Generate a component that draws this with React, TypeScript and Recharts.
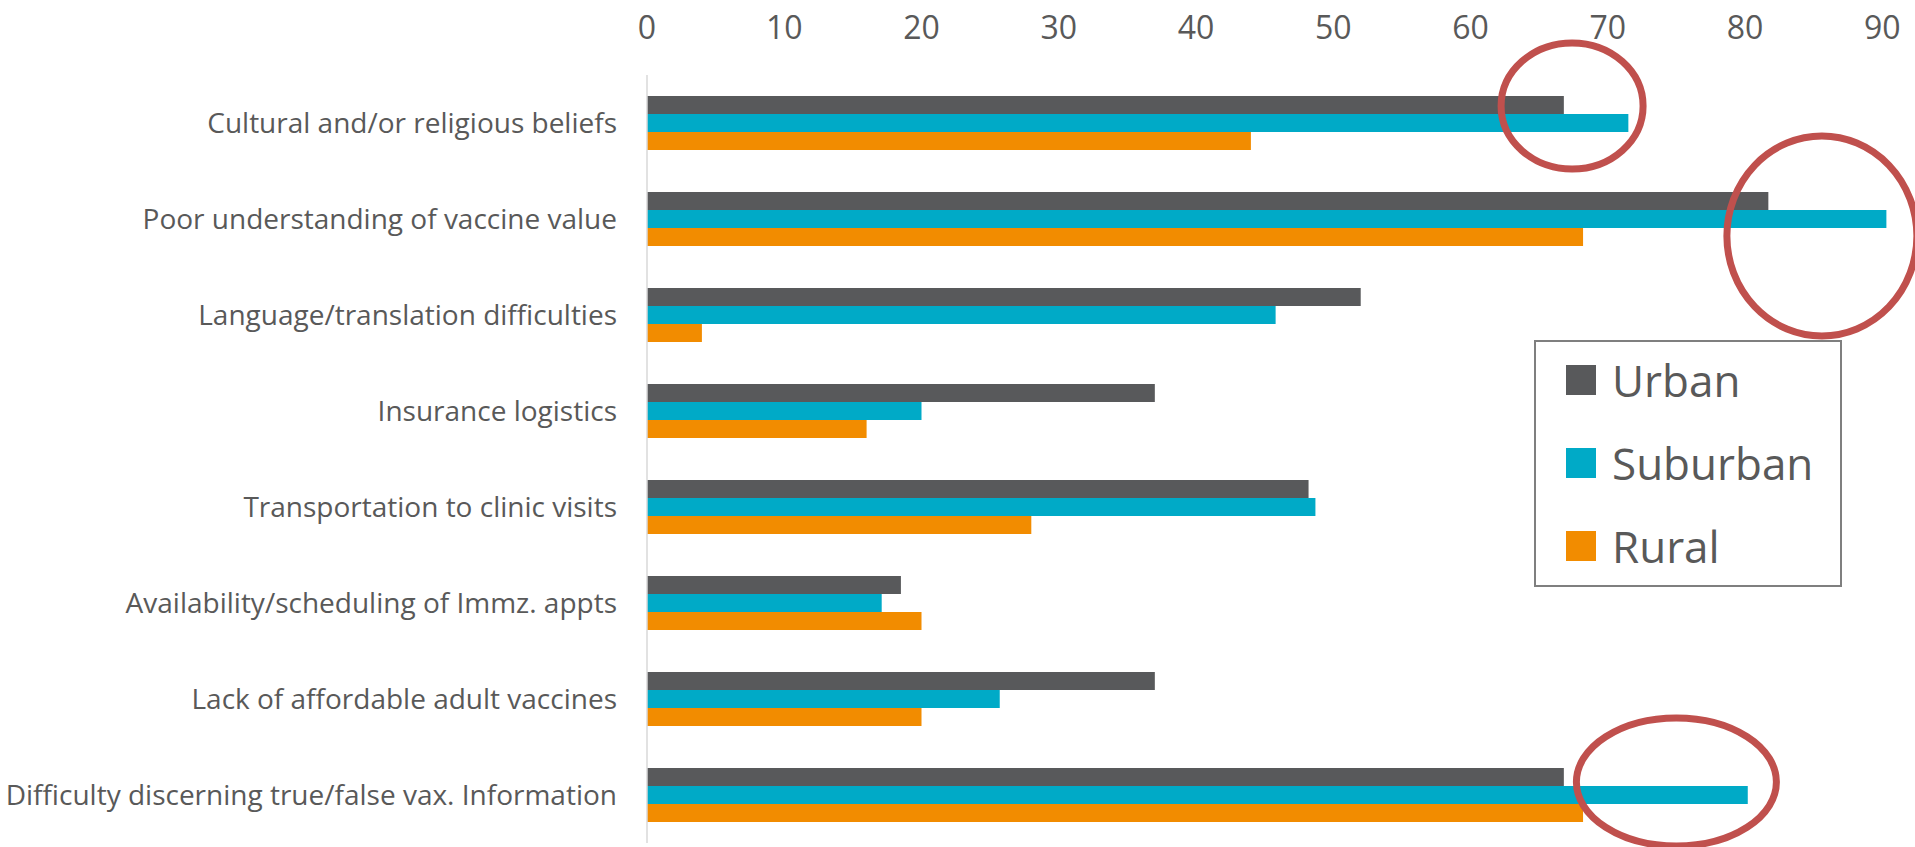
import React from "react";
import { BarChart, Bar, XAxis, YAxis, Legend, ReferenceDot } from "recharts";

const categories = [
  "Cultural and/or religious beliefs",
  "Poor understanding of vaccine value",
  "Language/translation difficulties",
  "Insurance logistics",
  "Transportation to clinic visits",
  "Availability/scheduling of Immz. appts",
  "Lack of affordable adult vaccines",
  "Difficulty discerning true/false vax. Information",
];
const seriesNames = ["Urban", "Suburban", "Rural"];
const urban = [66.8, 81.7, 52, 37, 48.2, 18.5, 37, 66.8];
const suburban = [71.5, 90.3, 45.8, 20, 48.7, 17.1, 25.7, 80.2];
const rural = [44, 68.2, 4, 16, 28, 20, 20, 68.2];
const xTicks = [0, 10, 20, 30, 40, 50, 60, 70, 80, 90];

// annotation rings: [x value, category, vertical shift, rx, ry]
const rings: [number, string, number, number, number][] = [
  [67.4, categories[0], -17, 71, 63],
  [85.6, categories[1], 17, 95, 100],
  [75, categories[7], -13, 100, 64],
];

const data = categories.map((c, i) => ({
  name: c,
  Urban: urban[i],
  Suburban: suburban[i],
  Rural: rural[i],
}));

const FONT = "'Open Sans', sans-serif";
const TEXT = "#595959";

function LegendBox(props: any) {
  const items = [...(props.payload || [])].sort(
    (a: any, b: any) => seriesNames.indexOf(a.value) - seriesNames.indexOf(b.value)
  );
  return (
    <div
      style={{
        boxSizing: "border-box",
        width: 308,
        height: 247,
        border: "2px solid #7f7f7f",
        background: "#fff",
        padding: "0 0 0 30px",
        fontFamily: FONT,
        color: TEXT,
      }}
    >
      <div style={{ marginTop: -4 }}>
        {items.map((it: any) => (
          <div key={it.value} style={{ display: "flex", alignItems: "center", height: 83 }}>
            <span style={{ width: 30, height: 30, background: it.color, display: "inline-block", marginRight: 16 }} />
            <span style={{ fontSize: 44, lineHeight: "44px" }}>{it.value}</span>
          </div>
        ))}
      </div>
    </div>
  );
}

export default function App() {
  return (
    <div style={{ position: "absolute", left: 0, top: 0, width: 1915, height: 847, background: "#fff" }}>
      <BarChart
        width={1915}
        height={847}
        data={data}
        layout="vertical"
        margin={{ top: 0, right: 19, bottom: 4, left: 0 }}
        barGap={0}
        barSize={18}
      >
        <XAxis
          type="number"
          orientation="top"
          domain={[0, 91]}
          ticks={xTicks}
          height={75}
          axisLine={false}
          tickLine={false}
          tickSize={0}
          tickMargin={36}
          tick={{ fill: TEXT, fontSize: 32, fontFamily: FONT }}
        />
        <YAxis
          type="category"
          dataKey="name"
          width={647}
          axisLine={{ stroke: "#d9d9d9", strokeWidth: 1.5 }}
          tickLine={false}
          tickSize={0}
          tickMargin={30}
          interval={0}
          tick={{ fill: TEXT, fontSize: 28, fontFamily: FONT }}
        />
        <Legend
          layout="vertical"
          align="center"
          verticalAlign="middle"
          content={<LegendBox />}
          wrapperStyle={{ left: 1534, top: 340, width: 308, height: 247 }}
        />
        <Bar dataKey="Urban" fill="#58595b" isAnimationActive={false} />
        <Bar dataKey="Suburban" fill="#00aac7" isAnimationActive={false} />
        <Bar dataKey="Rural" fill="#f28c00" isAnimationActive={false} />
        {rings.map(([x, y, dy, rx, ry], i) => (
          <ReferenceDot
            key={i}
            x={x}
            y={y}
            r={1}
            shape={(p: any) => (
              <ellipse cx={p.cx} cy={p.cy + dy} rx={rx} ry={ry} fill="none" stroke="#c0504d" strokeWidth={7} />
            )}
          />
        ))}
      </BarChart>
    </div>
  );
}
